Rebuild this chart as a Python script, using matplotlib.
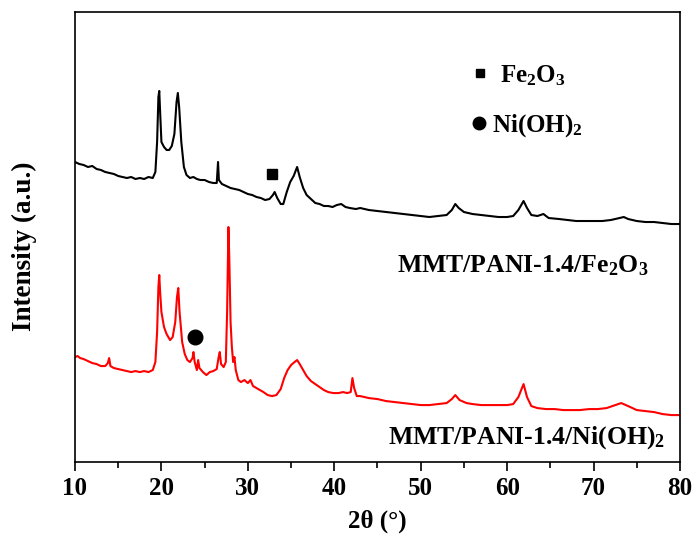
import matplotlib
matplotlib.use("Agg")
import matplotlib.pyplot as plt
from matplotlib.ticker import MultipleLocator

plt.rcParams['font.family'] = ['Liberation Serif', 'DejaVu Serif']
plt.rcParams['font.weight'] = 'bold'
plt.rcParams['mathtext.fontset'] = 'custom'
plt.rcParams['mathtext.rm'] = 'Liberation Serif:bold'
plt.rcParams['mathtext.it'] = 'Liberation Serif:bold'
plt.rcParams['mathtext.bf'] = 'Liberation Serif:bold'

# --- data (2theta in degrees, intensity in arbitrary units) ---
fe_theta = [10.0, 10.5, 11.0, 11.5, 12.0, 12.5, 13.0, 13.5, 14.0, 14.5, 15.0, 15.5, 16.0, 16.5, 17.0, 17.5,
            18.0, 18.5, 19.0, 19.3, 19.5, 19.65, 19.75, 19.85, 20.0, 20.3, 20.6, 20.9, 21.2, 21.5, 21.75,
            21.9, 22.05, 22.3, 22.6, 22.9, 23.3, 23.7, 24.1, 24.5, 25.0, 25.5, 26.0, 26.4, 26.55, 26.65,
            27.0, 27.5, 28.0, 28.5, 29.0, 29.5, 30.0, 30.5, 31.0, 31.5, 32.0, 32.5, 32.9, 33.1, 33.4, 33.8,
            34.1, 34.5, 34.9, 35.3, 35.7, 36.0, 36.4, 36.8, 37.3, 37.8, 38.3, 38.8, 39.3, 39.8, 40.3, 40.8,
            41.3, 41.8, 42.5, 43.0, 44, 45, 46, 47, 48, 49, 50, 51, 52, 53, 53.6, 54.0, 54.4, 55.0, 56, 57,
            58, 59, 60, 60.7, 61.3, 61.9, 62.3, 62.8, 63.5, 64.2, 64.8, 66, 67, 68, 69, 70, 71, 72, 73,
            73.5, 74, 75, 76, 77, 78, 79, 80]
fe_int = [300, 298, 297, 295, 296, 293, 292, 290, 289, 288, 286, 285, 284, 285, 283, 284,
          283, 285, 284, 290, 320, 365, 371, 350, 320, 315, 312, 312, 316, 328, 360,
          369, 355, 320, 295, 287, 284, 285, 283, 282, 282, 280, 279, 279, 300, 282,
          278, 276, 274, 273, 272, 270, 268, 267, 265, 264, 262, 263, 267, 270, 264, 258,
          258, 270, 280, 286, 295, 285, 274, 267, 263, 259, 258, 256, 256, 255, 257, 258,
          255, 254, 253, 254, 252, 251, 250, 249, 248, 247, 246, 245, 246, 247, 252, 258, 254, 250, 248, 247,
          246, 245, 245, 246, 252, 261, 254, 247, 246, 248, 244, 243, 242, 241, 241, 241, 241, 242, 244,
          245, 243, 241, 240, 240, 239, 238, 238]

ni_theta = [10.0, 10.3, 10.6, 11.0, 11.5, 12.0, 12.5, 13.0, 13.5, 13.8, 13.95, 14.1, 14.5, 15.0, 15.5,
            16.0, 16.5, 17.0, 17.5, 18.0, 18.5, 19.0, 19.3, 19.5, 19.65, 19.75, 19.85, 20.0, 20.3, 20.6,
            21.0, 21.3, 21.6, 21.8, 21.95, 22.1, 22.4, 22.7, 23.0, 23.3, 23.6, 23.7, 23.85, 24.1, 24.25,
            24.4, 24.8, 25.2, 25.6, 26.0, 26.4, 26.6, 26.75, 26.9, 27.2, 27.45, 27.6, 27.75, 27.85, 28.0,
            28.15, 28.3, 28.45, 28.6, 28.9, 29.2, 29.6, 30.0, 30.3, 30.6, 31.0, 31.4, 31.8, 32.3, 32.8,
            33.3, 33.8, 34.2, 34.6, 35.0, 35.4, 35.7, 36.0, 36.4, 36.8, 37.3, 37.8, 38.3, 38.8, 39.3,
            39.9, 40.5, 41.0, 41.5, 41.9, 42.1, 42.3, 42.6, 43.0, 44, 45, 46, 47, 48, 49, 50, 51, 52, 53,
            53.6, 54.0, 54.5, 55.3, 56, 57, 58, 59, 60, 60.7, 61.3, 61.9, 62.3, 62.8, 63.5, 64.5, 65.5,
            66.5, 67.5, 68.4, 69.5, 70.5, 71.5, 72.5, 73.2, 74.0, 75.0, 76.0, 77.0, 78.0, 79.0, 80.0]
ni_int = [105, 106, 104, 103, 101, 99, 98, 96, 96, 99, 104, 96, 94, 93, 92,
          91, 90, 91, 90, 91, 90, 92, 100, 130, 175, 187, 170, 150, 135, 128,
          122, 125, 140, 165, 174, 150, 120, 108, 102, 100, 104, 110, 100, 92, 102,
          94, 90, 87, 90, 91, 93, 104, 110, 98, 95, 100, 150, 235, 205, 140,
          115, 100, 105, 92, 82, 80, 82, 79, 82, 76, 74, 72, 70, 67, 66,
          67, 73, 84, 92, 97, 100, 102, 98, 92, 86, 81, 78, 75, 72, 70,
          69, 69, 70, 69, 70, 84, 74, 66, 66, 64, 63, 61, 60, 59, 58, 57, 57, 58, 59,
          63, 67, 62, 59, 58, 57, 57, 57, 57, 58, 65, 78, 65, 56, 54, 53, 53,
          52, 52, 52, 53, 53, 54, 57, 59, 56, 52, 51, 50, 48, 47, 47]

x_ticks = [10, 20, 30, 40, 50, 60, 70, 80]
fe_label = "MMT/PANI-1.4/Fe$_2$O$_3$"
ni_label = "MMT/PANI-1.4/Ni(OH)$_2$"

fig = plt.figure(figsize=(6.97, 5.43), dpi=100)
ax = fig.add_axes([0.1076, 0.149, 0.868, 0.829])

ax.plot(fe_theta, fe_int, color='black', lw=1.5)
ax.plot(ni_theta, ni_int, color='#ff0000', lw=1.5)

# phase markers
ax.plot([32.8], [288], marker='s', color='black', ms=7.5, ls='none')
ax.plot([23.9], [125], marker='o', color='black', ms=10.5, ls='none')

# legend-like annotations
ax.plot([56.86], [388.5], marker='s', color='black', ms=6, ls='none')
ax.text(59.2, 380, "Fe$_2$O$_3$", fontsize=18, fontweight='bold', va='baseline', ha='left')
ax.plot([56.74], [338.5], marker='o', color='black', ms=9, ls='none')
ax.text(58.25, 330, "Ni(OH)$_2$", fontsize=18, fontweight='bold', va='baseline', ha='left')

ax.text(47.2, 190, fe_label, fontsize=18.5, fontweight='bold', va='baseline', ha='left')
ax.text(46.2, 19, ni_label, fontsize=18.5, fontweight='bold', va='baseline', ha='left')

ax.set_xlim(10, 80)
ax.set_ylim(0, 450)
ax.set_xticks(x_ticks)
ax.xaxis.set_minor_locator(MultipleLocator(5))
ax.set_yticks([])
ax.tick_params(axis='x', which='major', direction='out', length=6.5, width=1.2,
               labelsize=18, top=False, pad=4)
ax.tick_params(axis='x', which='minor', direction='out', length=4, width=1.2, top=False)
for lab in ax.get_xticklabels():
    lab.set_fontweight('bold')
for s in ax.spines.values():
    s.set_linewidth(1.2)

ax.set_xlabel("2θ (°)", fontsize=18, fontweight='bold')
ax.xaxis.set_label_coords(0.5, -0.105)
ax.set_ylabel("Intensity (a.u.)", fontsize=19.5, fontweight='bold')
ax.yaxis.set_label_coords(-0.062, 0.48)

fig.savefig("out.png", dpi=100)
